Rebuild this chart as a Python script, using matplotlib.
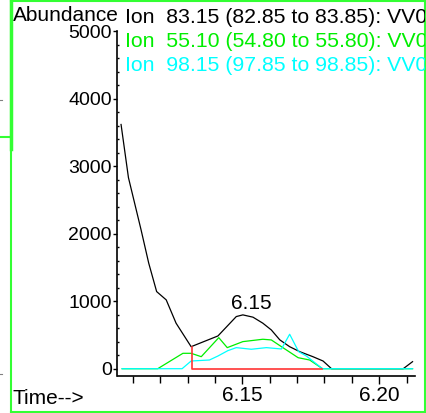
import matplotlib
matplotlib.use("Agg")
import matplotlib.pyplot as plt
from matplotlib.lines import Line2D

black_t = [6.1057, 6.1084, 6.1130, 6.1158, 6.1187, 6.1222, 6.1258, 6.1313, 6.1411, 6.1478,
           6.1502, 6.1539, 6.1575, 6.1606, 6.1637, 6.1673, 6.1710, 6.1758, 6.1795, 6.1826,
           6.2088, 6.2122]
black_v = [3616, 2829, 2058, 1564, 1142, 1019, 674, 326, 485, 772,
           797, 763, 674, 574, 427, 326, 252, 178, 114, 0,
           0, 104]

green_t = [6.1061, 6.1191, 6.1283, 6.1313, 6.1350, 6.1414, 6.1445, 6.1502, 6.1575, 6.1606,
           6.1643, 6.1704, 6.1746, 6.1793, 6.2122]
green_v = [0, 0, 228, 228, 178, 460, 312, 401, 436, 426, 326, 163, 129, 0, 0]

cyan_t = [6.1061, 6.1280, 6.1313, 6.1380, 6.1411, 6.1447, 6.1478, 6.1533, 6.1588, 6.1643,
          6.1673, 6.1706, 6.1734, 6.1793, 6.2122]
cyan_v = [0, 0, 114, 129, 188, 267, 312, 288, 312, 292, 510, 252, 188, 0, 0]

# linea base de integracion
red_t = [6.1315, 6.1315, 6.1793]
red_v = [326, 0, 0]

peak_t = 6.1502
peak_v = 797
peak_label = "6.15"

legend_lines = ["Ion  83.15 (82.85 to 83.85): VV0",
                "Ion  55.10 (54.80 to 55.80): VV0",
                "Ion  98.15 (97.85 to 98.85): VV0"]
legend_colors = ["black", "#00ee00", "#00ffff"]

W, H = 427, 413
plt.rcParams['font.family'] = ['Liberation Sans', 'DejaVu Sans']
fig = plt.figure(figsize=(W / 100, H / 100), dpi=100)

def fx(px):
    return px / W

def fy(py):
    return 1 - py / H

# marco verde
frame = fig.add_axes([fx(11.5), fy(411.5), fx(425 - 11.5), (411.5 - 1) / H])
frame.set_xticks([])
frame.set_yticks([])
frame.patch.set_alpha(0)
for s in frame.spines.values():
    s.set_color("#33ff33")
    s.set_linewidth(1.5)

# restos del panel vecino
fig.add_artist(Line2D([0, fx(11)], [fy(136.7), fy(136.7)], color="#33ff33", lw=1.5))
fig.add_artist(Line2D([fx(11.5), fx(11.5)], [fy(0), fy(149)], color="#33ff33", lw=2.5))
fig.add_artist(Line2D([0, fx(2)], [fy(100), fy(100)], color="gray", lw=0.8))
fig.add_artist(Line2D([0, fx(2)], [fy(374), fy(374)], color="gray", lw=0.8))

# ejes principales
ax = fig.add_axes([fx(117.5), fy(376), fx(415 - 117.5), (376 - 31) / H])
ax.patch.set_alpha(0)
ax.plot(black_t, black_v, color="black", lw=0.9)
ax.plot(green_t, green_v, color="#00ee00", lw=0.9)
ax.plot(cyan_t, cyan_v, color="#00ffff", lw=0.9)
ax.plot(red_t, red_v, color="#ff3333", lw=1.2)

ax.annotate(peak_label, xy=(peak_t, peak_v), xytext=(8, 6), textcoords="offset pixels",
            ha="center", va="baseline", fontsize=15)

ax.set_xlim(6.1044, 6.2131)
ax.set_ylim(-108, 5000)
ax.spines["top"].set_visible(False)
ax.spines["right"].set_visible(False)
ax.spines["left"].set_linewidth(1.2)
ax.spines["bottom"].set_linewidth(1.2)

ax.set_yticks([0, 1000, 2000, 3000, 4000, 5000])
ax.set_yticks(range(0, 5001, 200), minor=True)
ax.tick_params(axis="y", which="major", length=3, width=1, pad=1, labelsize=14)
ax.tick_params(axis="y", which="minor", length=1.5, width=1, direction="in")

ax.set_xticks([6.15, 6.20])
ax.set_xticklabels(["6.15", "6.20"])
ax.set_xticks([6.11, 6.12, 6.13, 6.14, 6.16, 6.17, 6.18, 6.19, 6.21], minor=True)
ax.tick_params(axis="x", which="major", length=6, width=1, pad=1, labelsize=15)
ax.tick_params(axis="x", which="minor", length=5, width=1)

# textos
frame.text(fx(12.5), fy(21), "Abundance", transform=fig.transFigure,
           ha="left", va="baseline", fontsize=15, clip_on=True)
for i, (txt, col) in enumerate(zip(legend_lines, legend_colors)):
    frame.text(fx(125), fy(23.3 + 23.8 * i), txt, transform=fig.transFigure, color=col,
               ha="left", va="baseline", fontsize=15.3, clip_on=True)
frame.text(fx(13), fy(404), "Time-->", transform=fig.transFigure,
           ha="left", va="baseline", fontsize=15, clip_on=True)

fig.savefig("out.png", dpi=100)
